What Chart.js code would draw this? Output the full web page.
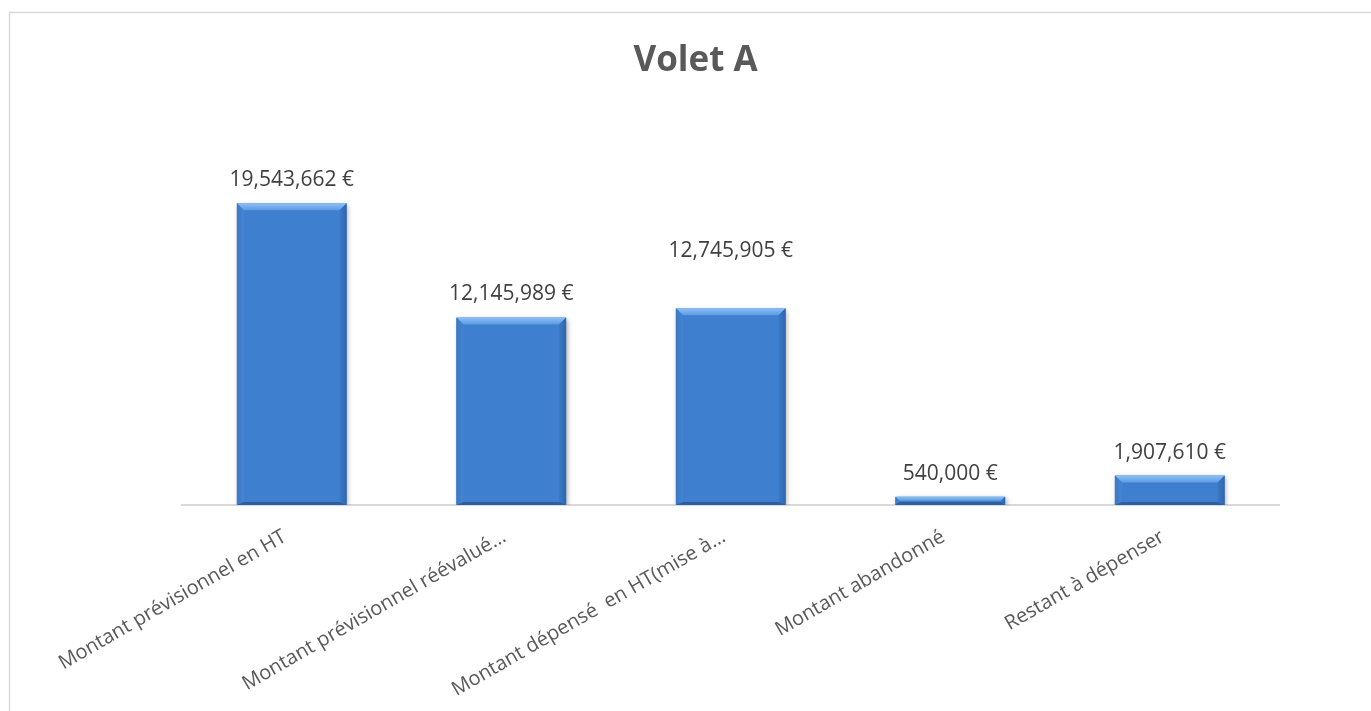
<!DOCTYPE html>
<html>
<head>
<meta charset="utf-8">
<script src="https://cdn.jsdelivr.net/npm/chart.js@4.4.1/dist/chart.umd.min.js"></script>
<style>
  html, body { margin: 0; padding: 0; background: #ffffff; overflow: hidden; }
  #wrap { position: relative; width: 1371px; height: 711px; }
</style>
</head>
<body>
<div id="wrap"><canvas id="c" width="1371" height="711"></canvas></div>
<script>
const chartTitle = "Volet A";
const categories = [
  "Montant prévisionnel en HT",
  "Montant prévisionnel réévalué…",
  "Montant dépensé  en HT(mise à…",
  "Montant abandonné",
  "Restant à dépenser"
];
const values = [19543662, 12145989, 12745905, 540000, 1907610];

function fmtEuro(v) {
  return v.toLocaleString('en-US') + ' €';
}

const framePlugin = {
  id: 'frame',
  beforeDraw(chart) {
    const ctx = chart.ctx;
    ctx.save();
    ctx.fillStyle = '#ffffff';
    ctx.fillRect(0, 0, chart.width, chart.height);
    ctx.strokeStyle = '#d9d9d9';
    ctx.lineWidth = 1.5;
    ctx.strokeRect(9.5, 12.5, chart.width + 50, chart.height + 50);
    ctx.restore();
  }
};

const shadowPlugin = {
  id: 'barShadow',
  beforeDatasetsDraw(chart) {
    const ctx = chart.ctx;
    ctx.save();
    ctx.shadowColor = 'rgba(0,0,0,0.35)';
    ctx.shadowBlur = 5;
    ctx.shadowOffsetX = 1.5;
    ctx.shadowOffsetY = 1.5;
  },
  afterDatasetsDraw(chart) {
    chart.ctx.restore();
  }
};

const bevelPlugin = {
  id: 'bevel',
  afterDatasetsDraw(chart) {
    const ctx = chart.ctx;
    const meta = chart.getDatasetMeta(0);
    meta.data.forEach((bar) => {
      const p = bar.getProps(['x', 'y', 'base', 'width'], true);
      const l = p.x - p.width / 2, r = p.x + p.width / 2;
      const t = Math.min(p.y, p.base), b = Math.max(p.y, p.base);
      const h = b - t;
      const s = Math.min(7, h / 2);
      const sb = Math.min(3, h / 2);
      ctx.save();
      ctx.shadowColor = 'transparent';
      let g = ctx.createLinearGradient(0, t, 0, t + s);
      g.addColorStop(0, '#8fc0f4');
      g.addColorStop(1, '#5a9be4');
      ctx.fillStyle = g;
      ctx.beginPath();
      ctx.moveTo(l, t); ctx.lineTo(r, t); ctx.lineTo(r - s, t + s); ctx.lineTo(l + s, t + s); ctx.closePath();
      ctx.fill();
      g = ctx.createLinearGradient(l, 0, l + s, 0);
      g.addColorStop(0, '#3b78c4');
      g.addColorStop(1, '#4585d2');
      ctx.fillStyle = g;
      ctx.beginPath();
      ctx.moveTo(l, t); ctx.lineTo(l + s, t + s); ctx.lineTo(l + s, b - sb); ctx.lineTo(l, b); ctx.closePath();
      ctx.fill();
      g = ctx.createLinearGradient(r - s, 0, r, 0);
      g.addColorStop(0, '#3b79c6');
      g.addColorStop(1, '#2f66ae');
      ctx.fillStyle = g;
      ctx.beginPath();
      ctx.moveTo(r, t); ctx.lineTo(r - s, t + s); ctx.lineTo(r - s, b - sb); ctx.lineTo(r, b); ctx.closePath();
      ctx.fill();
      ctx.fillStyle = '#305f9f';
      ctx.beginPath();
      ctx.moveTo(l, b); ctx.lineTo(l + s, b - sb); ctx.lineTo(r - s, b - sb); ctx.lineTo(r, b); ctx.closePath();
      ctx.fill();
      ctx.restore();
    });
  }
};

const labelPlugin = {
  id: 'valueLabels',
  afterDatasetsDraw(chart, args, opts) {
    const ctx = chart.ctx;
    const meta = chart.getDatasetMeta(0);
    ctx.save();
    ctx.font = '21px "Open Sans"';
    ctx.fillStyle = '#404040';
    ctx.textAlign = 'center';
    ctx.textBaseline = 'middle';
    meta.data.forEach((bar, i) => {
      const lift = (opts.extraLift && opts.extraLift[i]) || 0;
      ctx.fillText(fmtEuro(values[i]), bar.x, bar.y - 23 - lift);
    });
    ctx.restore();
  }
};

new Chart(document.getElementById('c'), {
  type: 'bar',
  data: {
    labels: categories,
    datasets: [{
      data: values,
      backgroundColor: '#3f7fcf',
      borderWidth: 0,
      categoryPercentage: 1.0,
      barPercentage: 0.5
    }]
  },
  options: {
    responsive: false,
    animation: false,
    devicePixelRatio: 1,
    layout: { padding: { left: 111.5, right: 91.5, top: 20, bottom: 0 } },
    plugins: {
      legend: { display: false },
      tooltip: { enabled: false },
      title: {
        display: true,
        text: chartTitle,
        color: '#595959',
        font: { family: 'Open Sans', size: 35, weight: 'bold', lineHeight: 1.2 },
        padding: { top: 20, bottom: 37 }
      },
      valueLabels: { extraLift: { 2: 34 } }
    },
    scales: {
      x: {
        grid: { display: false, drawTicks: false },
        border: { display: true, color: '#d9d9d9', width: 2 },
        ticks: {
          autoSkip: false,
          minRotation: 30,
          maxRotation: 30,
          color: '#595959',
          padding: 20,
          labelOffset: -7,
          font: { family: 'Open Sans', size: 20 }
        },
        afterFit(s) { s.height = 206; }
      },
      y: {
        min: 0,
        max: 25000000,
        grid: { display: false },
        border: { display: false },
        ticks: { display: false },
        afterFit(s) { s.width = 70.5; }
      }
    }
  },
  plugins: [framePlugin, shadowPlugin, bevelPlugin, labelPlugin]
});
</script>
</body>
</html>
